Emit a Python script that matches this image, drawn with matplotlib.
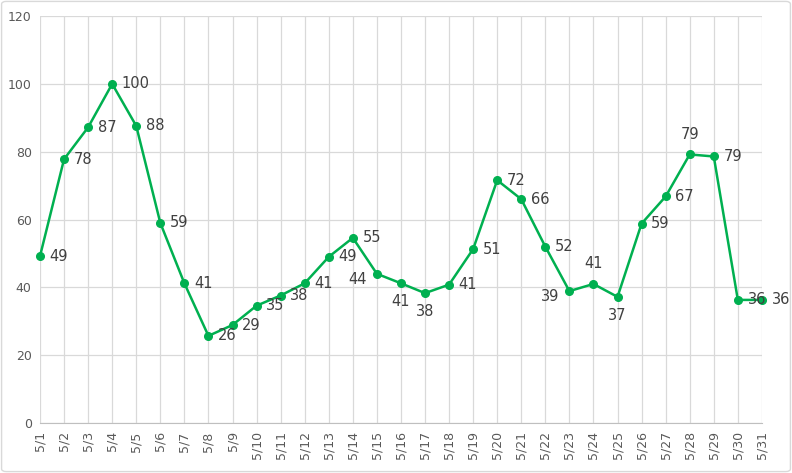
import matplotlib.pyplot as plt
from matplotlib.patches import FancyBboxPatch

# データ (5月の日別値)
days = [f"5/{d}" for d in range(1, 32)]
values = [49.2, 77.8, 87.2, 100.0, 87.6, 59.0, 41.2, 25.7, 28.9, 34.6, 37.6,
          41.2, 49.0, 54.6, 44.0, 41.2, 38.3, 40.8, 51.3, 71.6, 66.0, 52.0,
          38.9, 41.0, 37.2, 58.8, 66.8, 79.2, 78.6, 36.3, 36.3]
# ラベル位置 (r=右, l=左, a=上, b=下)
label_pos = ['r', 'r', 'r', 'r', 'r', 'r', 'r', 'r', 'r', 'r', 'r',
             'r', 'r', 'r', 'l', 'b', 'b', 'r', 'r', 'r', 'r', 'r',
             'l', 'a', 'b', 'r', 'r', 'a', 'r', 'r', 'r']
yticks = [0, 20, 40, 60, 80, 100, 120]

green = '#00B050'
grid_c = '#d9d9d9'
tick_c = '#595959'
label_c = '#404040'

fig = plt.figure(figsize=(7.92, 4.73), dpi=100)
fig.patch.set_facecolor('white')
fig.patches.append(FancyBboxPatch((0.002, 0.003), 0.996, 0.994,
                                  boxstyle='round,pad=0,rounding_size=0.006',
                                  transform=fig.transFigure, fill=False,
                                  edgecolor='#d9d9d9', linewidth=1.0))

ax = fig.add_axes([0.0505, 0.1057, 0.9115, 0.8603])
x = list(range(len(days)))
ax.plot(x, values, color=green, linewidth=1.8, marker='o', markersize=5.5,
        clip_on=False, zorder=3)

offsets = {'r': (7, 0, 'left', 'center'),
           'l': (-7, 0, 'right', 'center'),
           'a': (0, 9, 'center', 'bottom'),
           'b': (0, -8, 'center', 'top')}
for xi, v, p in zip(x, values, label_pos):
    dx, dy, ha, va = offsets[p]
    if p == 'l':
        dy = -4
    ax.annotate(f"{round(v)}", (xi, v), xytext=(dx, dy),
                textcoords='offset points', ha=ha, va=va,
                fontsize=10.5, color=label_c, annotation_clip=False, zorder=4)

ax.set_xlim(0, len(days) - 1)
ax.set_ylim(0, 120)
ax.set_yticks(yticks)
ax.set_xticks(x)
ax.set_xticklabels(days, rotation=90, fontsize=9, color=tick_c)
ax.set_yticklabels([str(t) for t in yticks], fontsize=9, color=tick_c)
ax.tick_params(length=0, pad=6)
ax.grid(True, color=grid_c, linewidth=0.9)
ax.set_axisbelow(True)
for s in ['top', 'right', 'left']:
    ax.spines[s].set_visible(False)
ax.spines['bottom'].set_color('#bfbfbf')

fig.savefig('out.png', dpi=100)
